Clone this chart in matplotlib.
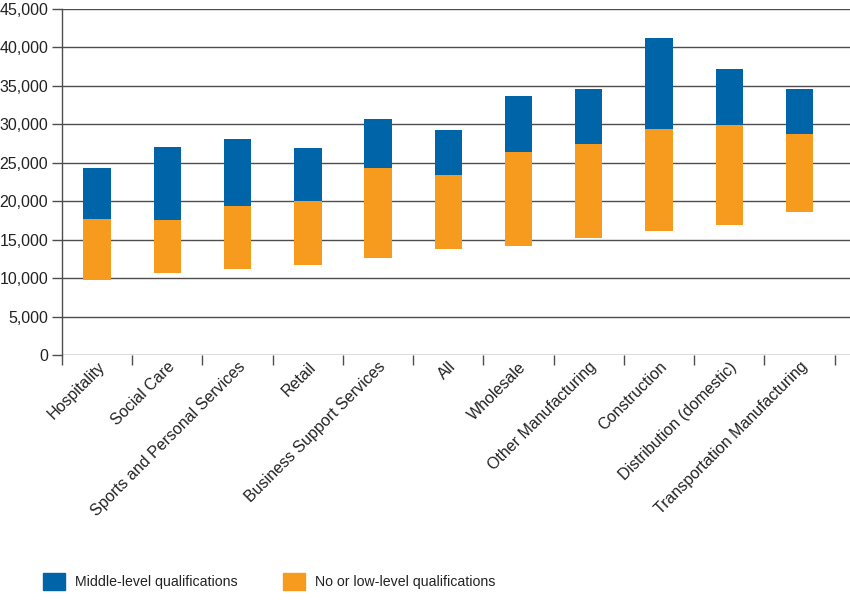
import numpy as np
import matplotlib
matplotlib.use("Agg")
from matplotlib import pyplot as plt
from matplotlib.patches import Patch

sectors = [
    "Hospitality", "Social Care", "Sports and Personal Services", "Retail",
    "Business Support Services", "All", "Wholesale", "Other Manufacturing",
    "Construction", "Distribution (domestic)", "Transportation Manufacturing",
]
# lower end of the "no or low-level" range
low_start = [9700, 10600, 11150, 11750, 12600, 13800, 14200, 15200, 16150, 16950, 18550]
# boundary between the two ranges
mid_level = [17650, 17550, 19350, 20000, 24300, 23350, 26400, 27450, 29350, 29900, 28800]
# top of the "middle-level" range
high_end = [24300, 27000, 28050, 26900, 30650, 29200, 33650, 34650, 41200, 37200, 34550]

BLUE = "#0064a8"
ORANGE = "#f79b1e"
GRID = "#4d4d4d"

plt.rcParams['font.family'] = ['Liberation Sans', 'DejaVu Sans']

fig = plt.figure(figsize=(8.5, 6.04), dpi=100)
ax = fig.add_axes([62 / 850, (604 - 355) / 604, 1 - 62 / 850, 346 / 604])

x = np.arange(len(sectors))
low = np.array(low_start)
mid = np.array(mid_level)
high = np.array(high_end)
width = 0.39

ax.bar(x, mid - low, bottom=low, width=width, color=ORANGE, zorder=3)
ax.bar(x, high - mid, bottom=mid, width=width, color=BLUE, zorder=3)

ax.set_ylim(0, 45000)
ax.set_xlim(-0.5, 10.72)
ax.set_yticks(np.arange(0, 45001, 5000))
ax.set_yticklabels([f"{v:,}" for v in range(0, 45001, 5000)], fontsize=11.5, color="#222222")
ax.yaxis.grid(True, color=GRID, linewidth=1.0, zorder=0)
ax.tick_params(axis="y", length=7, width=1.0, color=GRID, pad=3)

# category boundaries carry the ticks, labels sit under the bars
ax.set_xticks(np.arange(-0.5, 11, 1.0))
ax.set_xticklabels([])
ax.tick_params(axis="x", which="major", length=7, width=1.0, color=GRID)
ax.set_xticks(x, minor=True)
ax.set_xticklabels(sectors, minor=True, rotation=45, ha="right", va="top",
                   rotation_mode="anchor", fontsize=11.5, color="#222222")
ax.tick_params(axis="x", which="minor", length=0, pad=3)

for side in ["top", "right", "bottom"]:
    ax.spines[side].set_visible(False)
ax.spines["left"].set_color(GRID)
ax.spines["left"].set_linewidth(1.0)

handles = [Patch(color=BLUE, label="Middle-level qualifications"),
           Patch(color=ORANGE, label="No or low-level qualifications")]
fig.legend(handles=handles, loc="center left", bbox_to_anchor=(43 / 850, 0.037),
           ncol=2, frameon=False, fontsize=10.2, handlelength=1.55,
           handleheight=1.45, handletextpad=0.72, columnspacing=3.2,
           borderpad=0, borderaxespad=0, labelcolor="#222222")

fig.savefig("out.png", dpi=100)
